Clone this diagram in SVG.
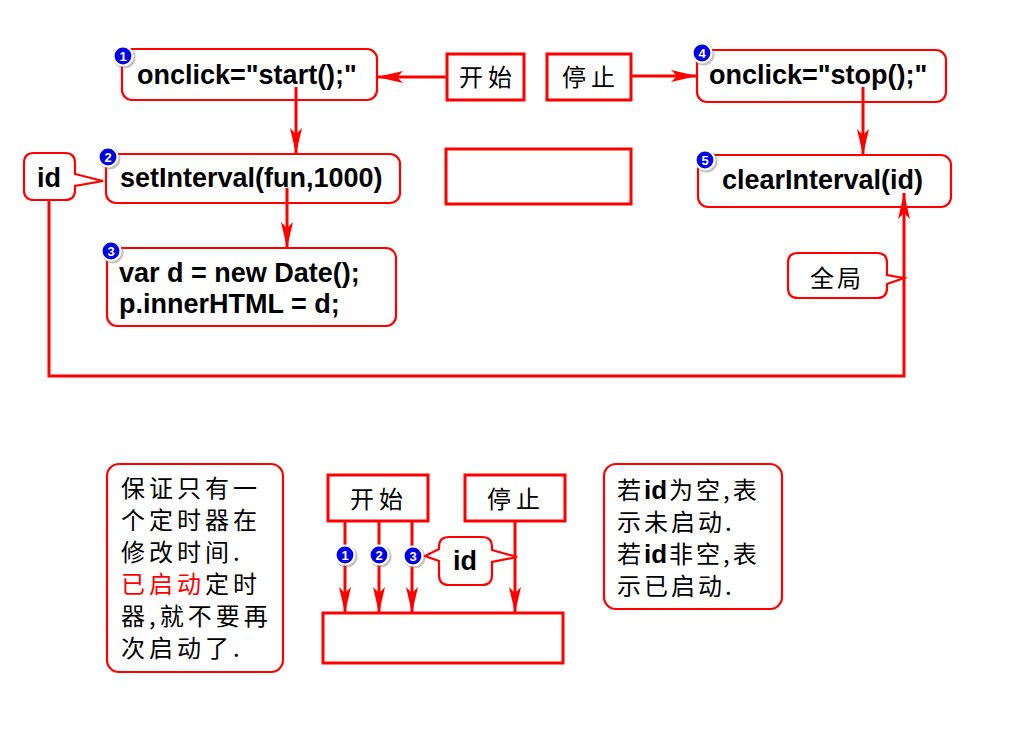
<svg xmlns="http://www.w3.org/2000/svg" width="1024" height="739" viewBox="0 0 1024 739">
<style>
.rb{fill:#fff;stroke:#ff0000;stroke-width:2.2}
.sq{fill:#fff;stroke:#ff0000;stroke-width:3}
.ln{fill:none;stroke:#ff0000;stroke-width:3}
.code{font-family:"Liberation Sans",Arial,sans-serif;font-weight:bold;font-size:27px;fill:#000}
.cjk{font-family:"Noto Sans CJK SC","Noto Sans CJK JP",sans-serif;font-size:24px;fill:#000}
.note{font-family:"Noto Sans CJK SC","Noto Sans CJK JP",sans-serif;font-size:24px;fill:#000;letter-spacing:4px}
.note2{font-family:"Noto Sans CJK SC","Noto Sans CJK JP",sans-serif;font-size:24px;fill:#000;letter-spacing:3px}
.bid{font-family:"Liberation Sans",Arial,sans-serif;font-weight:bold;font-size:26px;fill:#000}
.bt{font-family:"Liberation Sans",Arial,sans-serif;font-weight:bold;font-size:13px;fill:#fff;text-anchor:middle}
.bc{fill:#0000e6;stroke:#fff;stroke-width:2.2}
.bs{fill:#777;opacity:0.45}
</style>
<defs>
<marker id="ah" viewBox="0 0 26 12" refX="26" refY="6" markerWidth="26" markerHeight="12" orient="auto" markerUnits="userSpaceOnUse">
<path d="M0,0 L26,6 L0,12 L6,6 Z" fill="#ff0000"/>
</marker>
<g id="badge">
<circle class="bs" cx="1.5" cy="1.5" r="11"/>
<circle class="bc" cx="0" cy="0" r="9.5"/>
</g>
</defs>
<rect width="1024" height="739" fill="#fff"/>

<!-- top section nodes -->
<g id="n1">
<rect class="rb" x="122" y="49" width="255" height="51" rx="10"/>
<text class="code" x="137" y="84">onclick="start();"</text>
</g>
<g id="start-btn">
<rect class="sq" x="447" y="54" width="77" height="46"/>
<text class="cjk" x="488" y="86" text-anchor="middle" letter-spacing="5">开始</text>
</g>
<g id="stop-btn">
<rect class="sq" x="547" y="54" width="84" height="46"/>
<text class="cjk" x="591" y="86" text-anchor="middle" letter-spacing="5">停止</text>
</g>
<g id="n4">
<rect class="rb" x="697" y="50" width="249" height="52" rx="10"/>
<text class="code" x="709" y="84">onclick="stop();"</text>
</g>
<g id="empty-top">
<rect class="sq" x="446" y="149" width="185" height="55"/>
</g>
<g id="id-top">
<path class="rb" d="M34,153 H65 Q75,153 75,163 V174 L103,181 L75,186 V190 Q75,200 65,200 H34 Q24,200 24,190 V163 Q24,153 34,153 Z"/>
<text class="code" x="37" y="187">id</text>
</g>
<g id="n2">
<rect class="rb" x="106" y="154" width="294" height="49" rx="10"/>
<text class="code" x="120" y="187">setInterval(fun,1000)</text>
</g>
<g id="n5">
<rect class="rb" x="698" y="155" width="253" height="52" rx="10"/>
<text class="code" x="722" y="189">clearInterval(id)</text>
</g>
<g id="n3">
<rect class="rb" x="107" y="248" width="289" height="78" rx="10"/>
<text class="code" x="119" y="282">var d = new Date();</text>
<text class="code" x="119" y="313">p.innerHTML = d;</text>
</g>
<g id="global">
<path class="rb" d="M798,253 H877 Q887,253 887,263 V275 L904,278 L887,284 V288 Q887,298 877,298 H798 Q788,298 788,288 V263 Q788,253 798,253 Z"/>
<text class="cjk" x="837" y="287" text-anchor="middle" font-size="26" letter-spacing="3">全局</text>
</g>

<!-- bottom section nodes -->
<g id="note-left">
<rect class="rb" x="107" y="464" width="176" height="208" rx="12"/>
<text class="note" x="121" y="497">保证只有一</text>
<text class="note" x="121" y="529">个定时器在</text>
<text class="note" x="121" y="561">修改时间.</text>
<text class="note" x="121" y="593"><tspan fill="#ff0000">已启动</tspan>定时</text>
<text class="note" x="121" y="625">器,就不要再</text>
<text class="note" x="121" y="657">次启动了.</text>
</g>
<g id="start-btn2">
<rect class="sq" x="328" y="475" width="100" height="46"/>
<text class="cjk" x="379" y="508" text-anchor="middle" letter-spacing="5">开始</text>
</g>
<g id="stop-btn2">
<rect class="sq" x="465" y="475" width="100" height="46"/>
<text class="cjk" x="516" y="508" text-anchor="middle" letter-spacing="5">停止</text>
</g>
<g id="empty-bottom">
<rect class="sq" x="323" y="613" width="240" height="50"/>
</g>
<g id="note-right">
<rect class="rb" x="604" y="464" width="178" height="145" rx="12"/>
<text class="note2" x="617" y="499">若</text>
<text class="bid" x="644" y="499">id</text>
<text class="note2" x="669" y="499">为空,表</text>
<text class="note2" x="617" y="531">示未启动.</text>
<text class="note2" x="617" y="563">若</text>
<text class="bid" x="644" y="563">id</text>
<text class="note2" x="669" y="563">非空,表</text>
<text class="note2" x="617" y="595">示已启动.</text>
</g>

<!-- connectors -->
<g id="connectors">
<line class="ln" x1="447" y1="77" x2="377" y2="77" marker-end="url(#ah)"/>
<line class="ln" x1="631" y1="76" x2="697" y2="76" marker-end="url(#ah)"/>
<line class="ln" x1="296" y1="87" x2="296" y2="154" marker-end="url(#ah)"/>
<line class="ln" x1="287" y1="188" x2="287" y2="248" marker-end="url(#ah)"/>
<line class="ln" x1="863" y1="87" x2="863" y2="155" marker-end="url(#ah)"/>
<path class="ln" d="M49,200 V376 H904 V193" marker-end="url(#ah)"/>
<line class="ln" x1="345" y1="521" x2="345" y2="613" marker-end="url(#ah)"/>
<line class="ln" x1="379" y1="521" x2="379" y2="613" marker-end="url(#ah)"/>
<line class="ln" x1="412" y1="521" x2="412" y2="613" marker-end="url(#ah)"/>
<line class="ln" x1="515" y1="521" x2="515" y2="613" marker-end="url(#ah)"/>
</g>

<g id="id-bottom">
<path class="rb" d="M449,537 H482 Q492,537 492,547 V550 L517,557 L492,562 V575 Q492,585 482,585 H449 Q439,585 439,575 V561 L425,556 L439,549 V547 Q439,537 449,537 Z"/>
<text class="code" x="465" y="570" text-anchor="middle">id</text>
</g>

<!-- badges -->
<g id="badges">
<use href="#badge" x="123" y="56"/><text class="bt" x="123" y="60.5">1</text>
<use href="#badge" x="108" y="157"/><text class="bt" x="108" y="161.5">2</text>
<use href="#badge" x="111" y="251"/><text class="bt" x="111" y="255.5">3</text>
<use href="#badge" x="702" y="53"/><text class="bt" x="702" y="57.5">4</text>
<use href="#badge" x="705" y="160"/><text class="bt" x="705" y="164.5">5</text>
<use href="#badge" x="345" y="555"/><text class="bt" x="345" y="559.5">1</text>
<use href="#badge" x="379" y="555"/><text class="bt" x="379" y="559.5">2</text>
<use href="#badge" x="413" y="556"/><text class="bt" x="413" y="560.5">3</text>
</g>
</svg>
